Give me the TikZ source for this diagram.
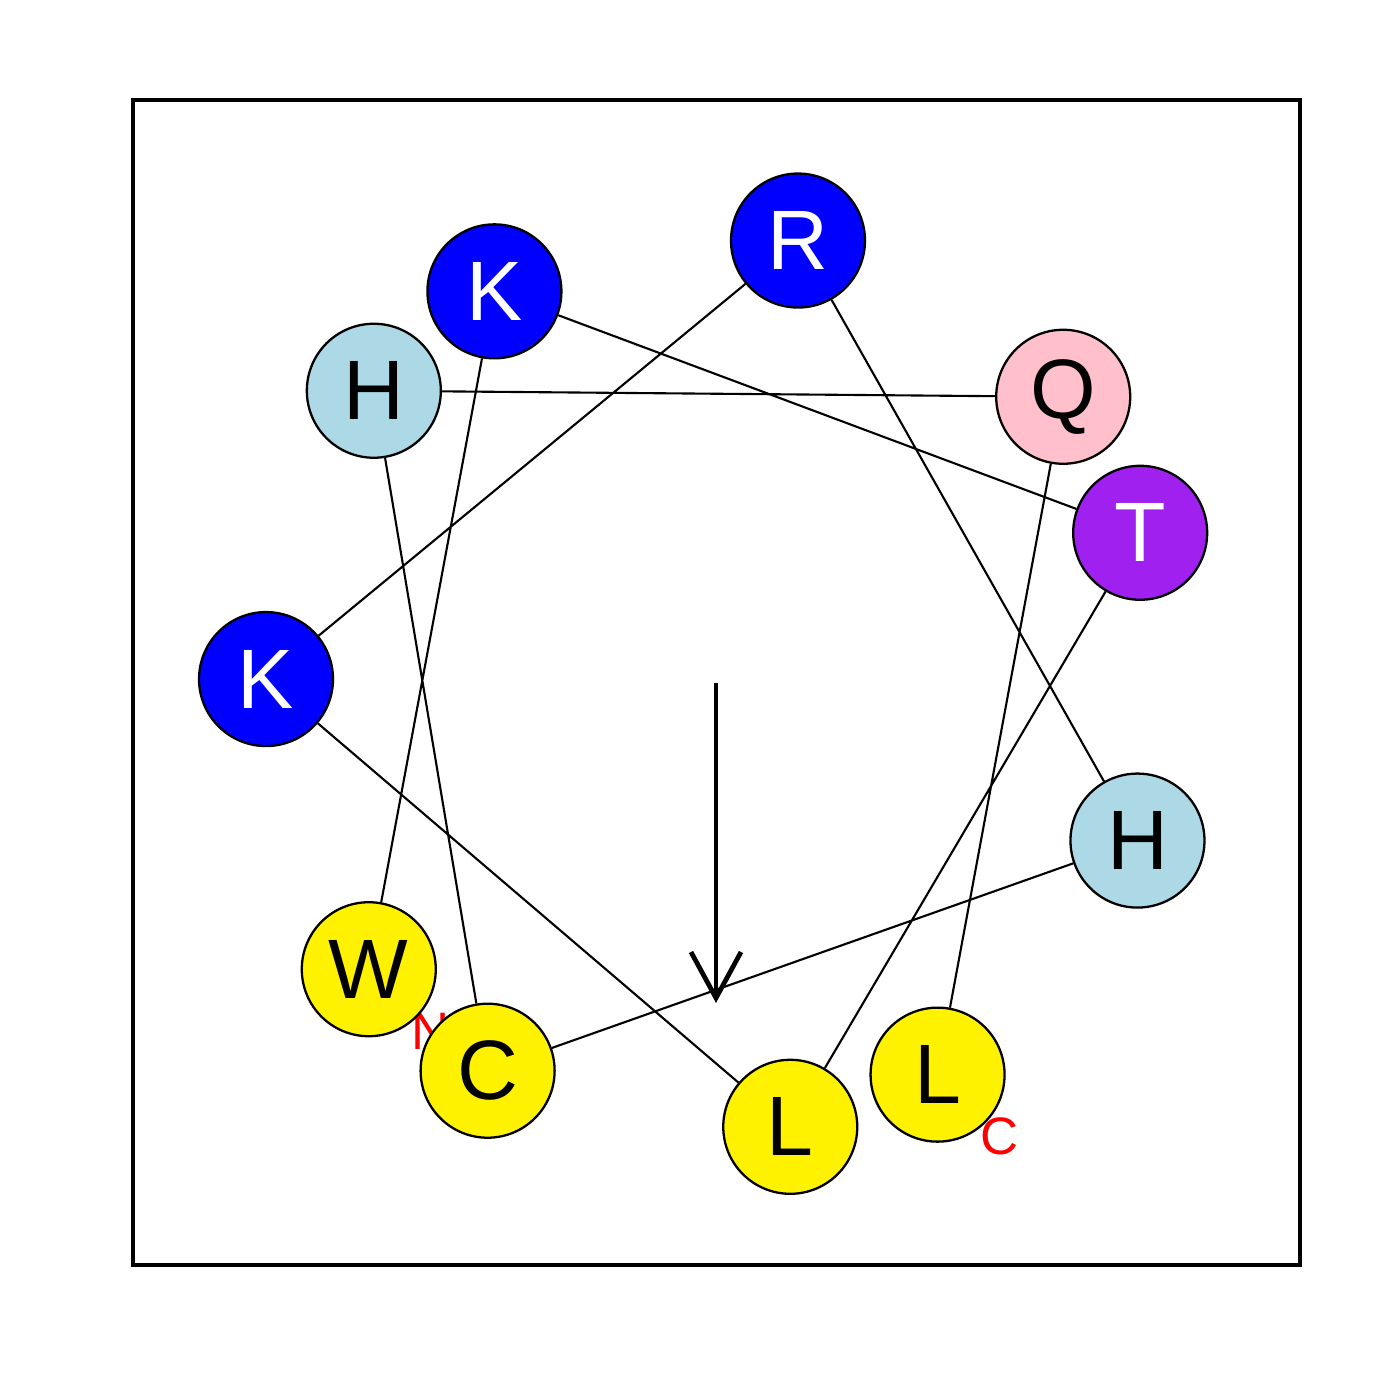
\documentclass[tikz,border=0pt]{standalone}
\usepackage{fontspec}
\setmainfont{Liberation Sans}
\usetikzlibrary{arrows.meta,backgrounds}

\definecolor{lblue}{RGB}{173,216,230}
\definecolor{rpink}{RGB}{255,192,203}
\definecolor{rpurple}{RGB}{160,32,240}

\begin{document}
\begin{tikzpicture}[
    residue/.style={circle, draw, line width=0.65pt, minimum size=1.34cm, inner sep=0pt, font=\fontsize{24}{24}\selectfont},
    basic/.style={residue, fill=blue, text=white},
    weak/.style={residue, fill=lblue},
    hydro/.style={residue, fill=yellow},
    amide/.style={residue, fill=rpink},
    polar/.style={residue, fill=rpurple, text=white},
    bond/.style={line width=0.6pt},
    term/.style={text=red, inner sep=0pt, font=\fontsize{15}{15}\selectfont},
    moment/.style={-{Straight Barb[length=4.6mm,width=5mm]}, line width=1.35pt}
]
\useasboundingbox (-7.16,-7.17) rectangle (6.84,6.83);
\draw[line width=0.9pt] (-5.83,-5.82) rectangle (5.84,5.83);

% residues, 100 degrees apart
\foreach \name/\aa/\sty [count=\i from 0] in {w/W/hydro, k1/K/basic, t/T/polar, l1/L/hydro, k2/K/basic, r/R/basic, h1/H/weak, c/C/hydro, h2/H/weak, q/Q/amide, l2/L/hydro}
  \node[\sty] (\name) at ({219.5-100*\i}:4.5) {\aa};

\begin{scope}[on background layer]
\draw[bond] (w) -- (k1) -- (t) -- (l1) -- (k2) -- (r) -- (h1) -- (c) -- (h2) -- (q) -- (l2);
\path (w) ++(0.62,-0.62) node[term] (nterm) {N};
\end{scope}
\path (l2) ++(0.62,-0.62) node[term] (cterm) {C};

% moment
\coordinate (mstart) at (0,0);
\coordinate (mend) at (0,-3.2);
\draw[moment] (mstart) -- (mend);
\end{tikzpicture}
\end{document}
